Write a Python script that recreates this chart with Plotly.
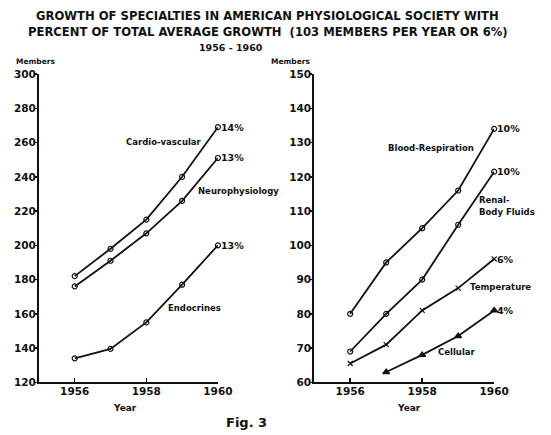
import plotly.graph_objects as go

years = [1956, 1957, 1958, 1959, 1960]
cardio = [182, 198, 215, 240, 269]
neuro = [176, 191, 207, 226, 251]
endo = [134, 139.5, 155, 177, 200]

blood = [80, 95, 105, 116, 134]
renal = [69, 80, 90, 106, 121.5]
temp = [65.5, 71, 81, 87.5, 96]
cell_years = [1957, 1958, 1959, 1960]
cellular = [63, 68, 73.5, 81]

left_pct = ["14%", "13%", "13%"]
right_pct = ["10%", "10%", "6%", "4%"]

W, H = 551, 435
FONT = "DejaVu Sans"
BLACK = "#111111"

fig = go.Figure()

def line(x, y, xa, ya, sym, size=5):
    fig.add_trace(go.Scatter(
        x=x, y=y, xaxis=xa, yaxis=ya, mode="lines+markers",
        line=dict(color=BLACK, width=1.8),
        marker=dict(symbol=sym, size=size, color=BLACK,
                    line=dict(color=BLACK, width=1.2)),
        cliponaxis=False, showlegend=False, hoverinfo="skip"))

for s in (cardio, neuro, endo):
    line(years, s, "x", "y", "circle-open")
for s in (blood, renal):
    line(years, s, "x2", "y2", "circle-open")
line(years, temp, "x2", "y2", "x-thin-open", 5)
line(cell_years, cellular, "x2", "y2", "triangle-up", 6)

def px(x):
    return x / W

def py(y):
    return 1 - y / H

yd = [py(387), py(70)]
tfont = dict(family=FONT, size=10.5, color=BLACK, weight="bold")
xcommon = dict(showline=True, linecolor=BLACK, linewidth=2, ticks="inside",
               ticklen=4, tickcolor=BLACK, tickwidth=1.5, showgrid=False,
               zeroline=False, tickfont=tfont, range=[1955, 1960],
               tickvals=[1956, 1958, 1960], ticklabelstandoff=-2)
ycommon = dict(showline=True, linecolor=BLACK, linewidth=2, ticks="outside",
               ticklen=3, tickcolor=BLACK, tickwidth=1.5, showgrid=False,
               zeroline=False, tickfont=tfont, domain=yd, ticklabelstandoff=-4)

fig.update_layout(
    width=W, height=H, margin=dict(l=0, r=0, t=0, b=0),
    paper_bgcolor="white", plot_bgcolor="white",
    xaxis=dict(domain=[px(40), px(224)], anchor="y", **xcommon),
    yaxis=dict(range=[120, 300], tickvals=list(range(120, 301, 20)),
               anchor="x", **ycommon),
    xaxis2=dict(domain=[px(323), px(508)], anchor="y2", **xcommon),
    yaxis2=dict(range=[60, 150], tickvals=list(range(60, 151, 10)),
                anchor="x2", **ycommon),
)

def ann(text, x, y, size=9, xanchor="left"):
    fig.add_annotation(text=text, x=px(x), y=py(y), xref="paper", yref="paper",
                       xanchor=xanchor, yanchor="middle", showarrow=False,
                       font=dict(family=FONT, size=size, color=BLACK, weight="bold"))

# Title
ann("GROWTH OF SPECIALTIES IN AMERICAN PHYSIOLOGICAL SOCIETY WITH", 275, 10, 11.6, "center")
ann("PERCENT OF TOTAL AVERAGE GROWTH  (103 MEMBERS PER YEAR OR 6%)", 275, 27, 11.6, "center")
ann("1956 - 1960", 237, 43, 9.5, "center")
ann("Members", 14, 57, 7.5)
ann("Members", 277, 57, 7.5)
ann("Year", 129, 413, 9, "center")
ann("Year", 420, 413, 9, "center")
ann("Fig. 3", 253, 428, 13, "center")

# Series labels (left)
ann("Cardio-vascular", 127, 140, 8.5)
ann("Neurophysiology", 201, 190, 8.5)
ann("Endocrines", 171, 311, 8.5)
# Series labels (right)
ann("Blood-Respiration", 397, 146, 8.5)
ann("Renal-", 490, 200, 8.5)
ann("Body Fluids", 490, 212, 8.5)
ann("Temperature", 481, 289, 8.5)
ann("Cellular", 448, 356, 8.5)

# Percent labels at series end points
pfont = dict(family=FONT, size=9.5, color=BLACK, weight="bold")
for s, t in zip((cardio, neuro, endo), left_pct):
    fig.add_annotation(text=t, x=1960, y=s[-1], xref="x", yref="y",
                       xanchor="left", yanchor="middle", xshift=1, showarrow=False,
                       font=pfont)
for s, t in zip((blood, renal, temp, cellular), right_pct):
    fig.add_annotation(text=t, x=1960, y=s[-1], xref="x2", yref="y2",
                       xanchor="left", yanchor="middle", xshift=1, showarrow=False,
                       font=pfont)

fig.write_html(
    "out.html",
    config={"displayModeBar": False, "staticPlot": True},
    post_script=(
        "document.body.style.margin='0px';"
        "document.body.style.overflow='hidden';"
        "document.documentElement.style.overflow='hidden';"
    ),
)
